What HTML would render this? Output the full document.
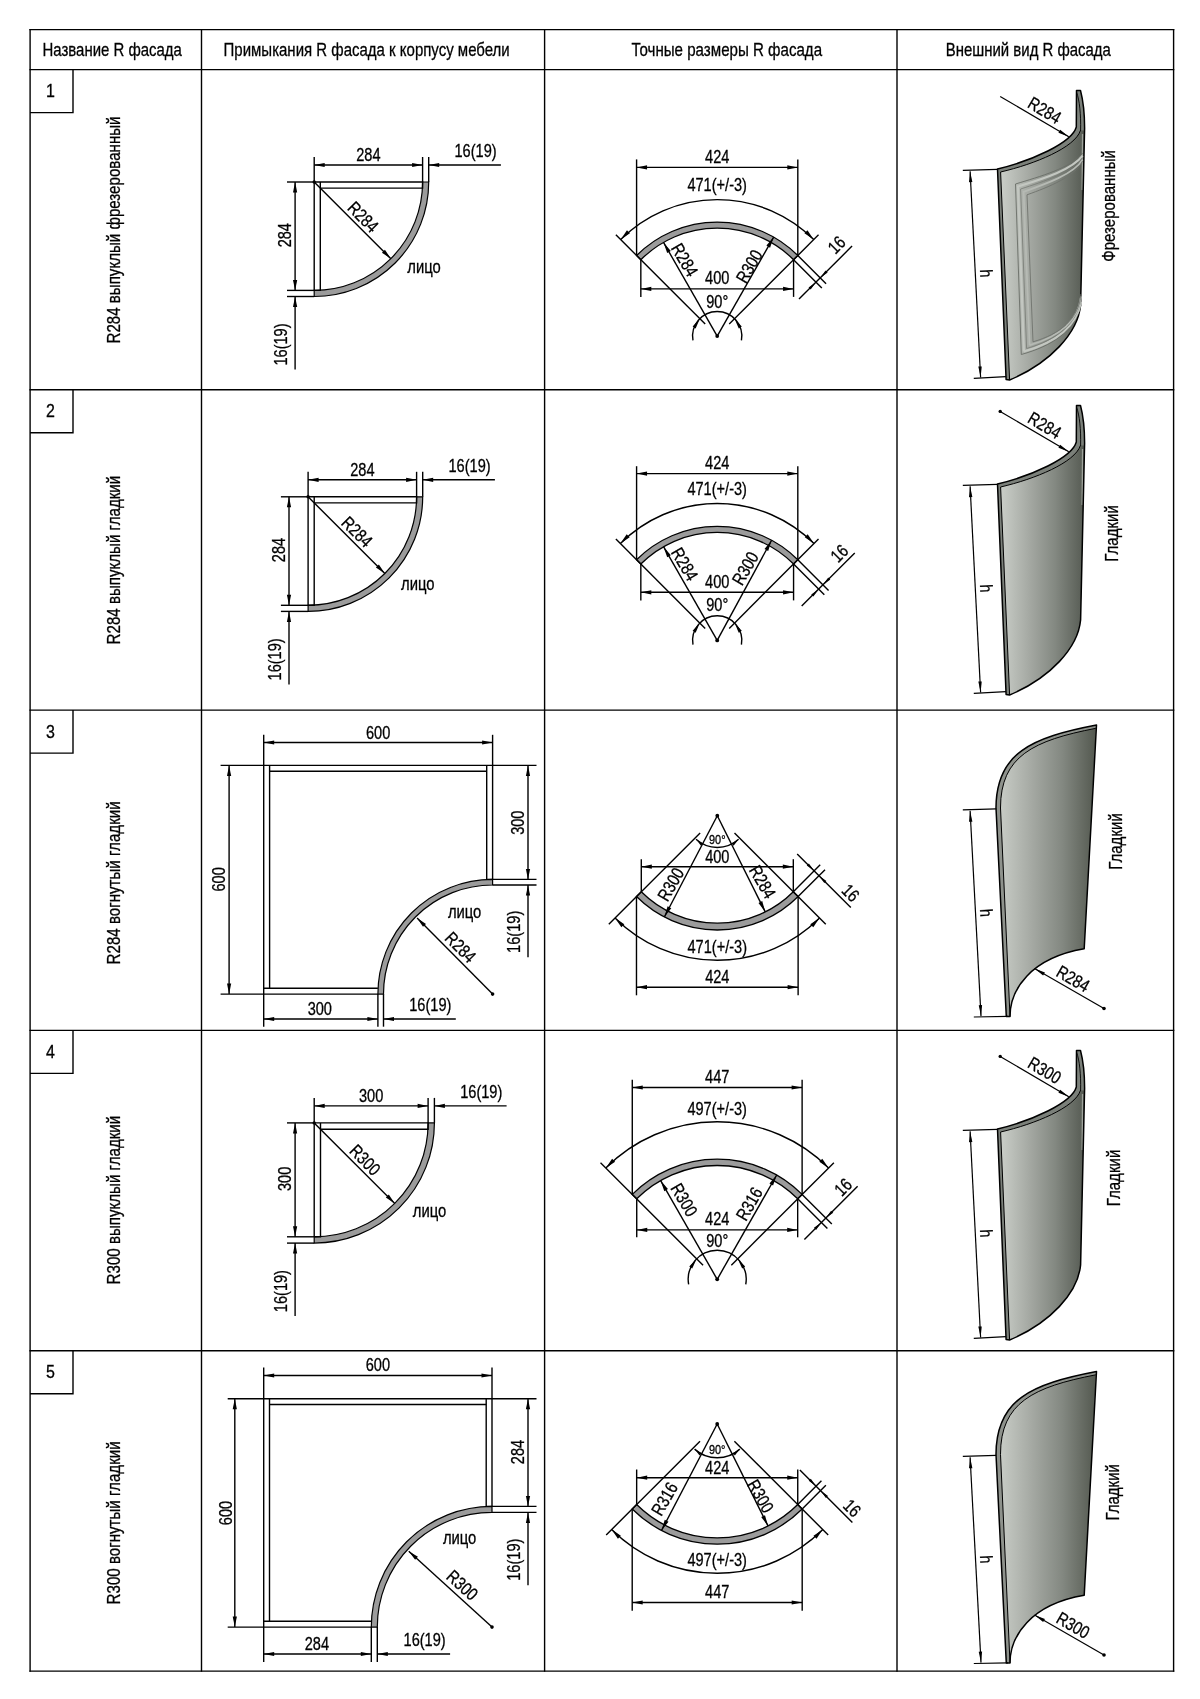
<!DOCTYPE html>
<html><head><meta charset="utf-8"><style>
html,body{margin:0;padding:0;background:#fff;}
body{width:1200px;height:1699px;overflow:hidden;}
svg{display:block;will-change:transform;}
text{font-family:"Liberation Sans",sans-serif;fill:#000;stroke:#000;stroke-width:0.3px;}
</style></head><body>
<svg width="1200" height="1699" viewBox="0 0 1200 1699">
<defs>

<linearGradient id="gface" gradientUnits="userSpaceOnUse" x1="1002" y1="0" x2="1084" y2="0">
 <stop offset="0" stop-color="#c8ccc6"/><stop offset="0.35" stop-color="#a3a7a1"/><stop offset="0.65" stop-color="#838881"/><stop offset="1" stop-color="#565b53"/>
</linearGradient>
<linearGradient id="gface2" gradientUnits="userSpaceOnUse" x1="1000" y1="0" x2="1096" y2="0">
 <stop offset="0" stop-color="#c8ccc6"/><stop offset="0.35" stop-color="#a3a7a1"/><stop offset="0.65" stop-color="#838881"/><stop offset="1" stop-color="#53584f"/>
</linearGradient>

</defs>
<line x1="30.10" y1="28.90" x2="30.10" y2="1671.80" stroke="#000" stroke-width="1.4"/>
<line x1="201.50" y1="28.90" x2="201.50" y2="1671.80" stroke="#000" stroke-width="1.4"/>
<line x1="544.60" y1="28.90" x2="544.60" y2="1671.80" stroke="#000" stroke-width="1.4"/>
<line x1="897.00" y1="28.90" x2="897.00" y2="1671.80" stroke="#000" stroke-width="1.4"/>
<line x1="1173.60" y1="28.90" x2="1173.60" y2="1671.80" stroke="#000" stroke-width="1.4"/>
<line x1="29.40" y1="29.60" x2="1174.30" y2="29.60" stroke="#000" stroke-width="1.4"/>
<line x1="29.40" y1="69.60" x2="1174.30" y2="69.60" stroke="#000" stroke-width="1.4"/>
<line x1="29.40" y1="389.75" x2="1174.30" y2="389.75" stroke="#000" stroke-width="1.4"/>
<line x1="29.40" y1="710.10" x2="1174.30" y2="710.10" stroke="#000" stroke-width="1.4"/>
<line x1="29.40" y1="1030.40" x2="1174.30" y2="1030.40" stroke="#000" stroke-width="1.4"/>
<line x1="29.40" y1="1350.75" x2="1174.30" y2="1350.75" stroke="#000" stroke-width="1.4"/>
<line x1="29.40" y1="1671.10" x2="1174.30" y2="1671.10" stroke="#000" stroke-width="1.4"/>
<path d="M30.1,112.6 L73,112.6 L73,69.6" fill="none" stroke="#000" stroke-width="1.4"/>
<text x="50.50" y="97.00" font-size="18.6" text-anchor="middle" textLength="8.90" lengthAdjust="spacingAndGlyphs">1</text>
<path d="M30.1,432.75 L73,432.75 L73,389.75" fill="none" stroke="#000" stroke-width="1.4"/>
<text x="50.50" y="417.15" font-size="18.6" text-anchor="middle" textLength="8.90" lengthAdjust="spacingAndGlyphs">2</text>
<path d="M30.1,753.1 L73,753.1 L73,710.1" fill="none" stroke="#000" stroke-width="1.4"/>
<text x="50.50" y="737.50" font-size="18.6" text-anchor="middle" textLength="8.90" lengthAdjust="spacingAndGlyphs">3</text>
<path d="M30.1,1073.4 L73,1073.4 L73,1030.4" fill="none" stroke="#000" stroke-width="1.4"/>
<text x="50.50" y="1057.80" font-size="18.6" text-anchor="middle" textLength="8.90" lengthAdjust="spacingAndGlyphs">4</text>
<path d="M30.1,1393.75 L73,1393.75 L73,1350.75" fill="none" stroke="#000" stroke-width="1.4"/>
<text x="50.50" y="1378.15" font-size="18.6" text-anchor="middle" textLength="8.90" lengthAdjust="spacingAndGlyphs">5</text>
<text x="112.20" y="56.30" font-size="18.6" text-anchor="middle" textLength="139.35" lengthAdjust="spacingAndGlyphs">Название R фасада</text>
<text x="366.65" y="56.30" font-size="18.6" text-anchor="middle" textLength="286.22" lengthAdjust="spacingAndGlyphs">Примыкания R фасада к корпусу мебели</text>
<text x="726.75" y="56.30" font-size="18.6" text-anchor="middle" textLength="190.62" lengthAdjust="spacingAndGlyphs">Точные размеры R фасада</text>
<text x="1028.30" y="56.30" font-size="18.6" text-anchor="middle" textLength="165.21" lengthAdjust="spacingAndGlyphs">Внешний вид R фасада</text>
<text x="120.10" y="343.50" font-size="18.2" text-anchor="start" textLength="227.02" lengthAdjust="spacingAndGlyphs" transform="rotate(-90.00 120.10 343.50)">R284 выпуклый фрезерованный</text>
<text x="120.10" y="644.40" font-size="18.2" text-anchor="start" textLength="168.64" lengthAdjust="spacingAndGlyphs" transform="rotate(-90.00 120.10 644.40)">R284 выпуклый гладкий</text>
<text x="120.10" y="964.40" font-size="18.2" text-anchor="start" textLength="163.01" lengthAdjust="spacingAndGlyphs" transform="rotate(-90.00 120.10 964.40)">R284 вогнутый гладкий</text>
<text x="120.10" y="1284.40" font-size="18.2" text-anchor="start" textLength="168.64" lengthAdjust="spacingAndGlyphs" transform="rotate(-90.00 120.10 1284.40)">R300 выпуклый гладкий</text>
<text x="120.10" y="1604.40" font-size="18.2" text-anchor="start" textLength="163.01" lengthAdjust="spacingAndGlyphs" transform="rotate(-90.00 120.10 1604.40)">R300 вогнутый гладкий</text>
<path d="M422.60,182.00 L428.70,182.00 A114.50,114.50 0 0 1 314.20,296.50 L314.20,290.40 A108.40,108.40 0 0 0 422.60,182.00 Z" fill="#9b9b9b" stroke="#000" stroke-width="1.2"/>
<path d="M314.20,290.40 L314.20,182.00 L422.60,182.00 L422.60,188.10 L320.30,188.10" fill="none" stroke="#000" stroke-width="1.4"/>
<path d="M320.30,182.00 L320.30,290.40 L314.20,290.40" fill="none" stroke="#000" stroke-width="1.4"/>
<line x1="314.20" y1="157.00" x2="314.20" y2="182.00" stroke="#000" stroke-width="1.4"/>
<line x1="422.60" y1="157.00" x2="422.60" y2="182.00" stroke="#000" stroke-width="1.4"/>
<line x1="428.70" y1="157.00" x2="428.70" y2="182.00" stroke="#000" stroke-width="1.4"/>
<line x1="314.20" y1="165.00" x2="422.60" y2="165.00" stroke="#000" stroke-width="1.4"/>
<path d="M314.20,165.00 L324.70,162.90 L324.70,167.10 Z" fill="#000"/>
<path d="M422.60,165.00 L412.10,167.10 L412.10,162.90 Z" fill="#000"/>
<line x1="428.70" y1="165.00" x2="500.90" y2="165.00" stroke="#000" stroke-width="1.4"/>
<path d="M428.70,165.00 L439.20,162.90 L439.20,167.10 Z" fill="#000"/>
<text x="368.40" y="160.80" font-size="18.0" text-anchor="middle" textLength="24.33" lengthAdjust="spacingAndGlyphs">284</text>
<text x="454.50" y="156.80" font-size="18.0" text-anchor="start" textLength="42.15" lengthAdjust="spacingAndGlyphs">16(19)</text>
<line x1="287.00" y1="182.00" x2="314.20" y2="182.00" stroke="#000" stroke-width="1.4"/>
<line x1="287.00" y1="290.40" x2="314.20" y2="290.40" stroke="#000" stroke-width="1.4"/>
<line x1="287.00" y1="296.50" x2="314.20" y2="296.50" stroke="#000" stroke-width="1.4"/>
<line x1="295.10" y1="182.00" x2="295.10" y2="290.40" stroke="#000" stroke-width="1.4"/>
<path d="M295.10,182.00 L297.20,192.50 L293.00,192.50 Z" fill="#000"/>
<path d="M295.10,290.40 L293.00,279.90 L297.20,279.90 Z" fill="#000"/>
<line x1="295.10" y1="296.50" x2="295.10" y2="369.50" stroke="#000" stroke-width="1.4"/>
<path d="M295.10,296.50 L297.20,307.00 L293.00,307.00 Z" fill="#000"/>
<text x="290.80" y="235.20" font-size="18.0" text-anchor="middle" textLength="24.33" lengthAdjust="spacingAndGlyphs" transform="rotate(-90.00 290.80 235.20)">284</text>
<text x="286.90" y="344.50" font-size="18.0" text-anchor="middle" textLength="42.15" lengthAdjust="spacingAndGlyphs" transform="rotate(-90.00 286.90 344.50)">16(19)</text>
<circle cx="314.20" cy="182.00" r="1.7" fill="#000"/>
<line x1="314.20" y1="182.00" x2="390.85" y2="258.65" stroke="#000" stroke-width="1.4"/>
<path d="M390.85,258.65 L381.94,252.71 L384.91,249.74 Z" fill="#000"/>
<text x="362.96" y="217.16" font-size="18.0" text-anchor="middle" textLength="34.86" lengthAdjust="spacingAndGlyphs" transform="rotate(45.00 362.96 217.16)" dominant-baseline="central">R284</text>
<text x="407.30" y="273.40" font-size="18.0" text-anchor="start" textLength="33.44" lengthAdjust="spacingAndGlyphs">лицо</text>
<path d="M416.60,496.80 L422.70,496.80 A114.60,114.60 0 0 1 308.10,611.40 L308.10,605.30 A108.50,108.50 0 0 0 416.60,496.80 Z" fill="#9b9b9b" stroke="#000" stroke-width="1.2"/>
<path d="M308.10,605.30 L308.10,496.80 L416.60,496.80 L416.60,502.90 L314.20,502.90" fill="none" stroke="#000" stroke-width="1.4"/>
<path d="M314.20,496.80 L314.20,605.30 L308.10,605.30" fill="none" stroke="#000" stroke-width="1.4"/>
<line x1="308.10" y1="471.80" x2="308.10" y2="496.80" stroke="#000" stroke-width="1.4"/>
<line x1="416.60" y1="471.80" x2="416.60" y2="496.80" stroke="#000" stroke-width="1.4"/>
<line x1="422.70" y1="471.80" x2="422.70" y2="496.80" stroke="#000" stroke-width="1.4"/>
<line x1="308.10" y1="479.80" x2="416.60" y2="479.80" stroke="#000" stroke-width="1.4"/>
<path d="M308.10,479.80 L318.60,477.70 L318.60,481.90 Z" fill="#000"/>
<path d="M416.60,479.80 L406.10,481.90 L406.10,477.70 Z" fill="#000"/>
<line x1="422.70" y1="479.80" x2="494.90" y2="479.80" stroke="#000" stroke-width="1.4"/>
<path d="M422.70,479.80 L433.20,477.70 L433.20,481.90 Z" fill="#000"/>
<text x="362.35" y="475.60" font-size="18.0" text-anchor="middle" textLength="24.33" lengthAdjust="spacingAndGlyphs">284</text>
<text x="448.50" y="471.60" font-size="18.0" text-anchor="start" textLength="42.15" lengthAdjust="spacingAndGlyphs">16(19)</text>
<line x1="280.90" y1="496.80" x2="308.10" y2="496.80" stroke="#000" stroke-width="1.4"/>
<line x1="280.90" y1="605.30" x2="308.10" y2="605.30" stroke="#000" stroke-width="1.4"/>
<line x1="280.90" y1="611.40" x2="308.10" y2="611.40" stroke="#000" stroke-width="1.4"/>
<line x1="289.00" y1="496.80" x2="289.00" y2="605.30" stroke="#000" stroke-width="1.4"/>
<path d="M289.00,496.80 L291.10,507.30 L286.90,507.30 Z" fill="#000"/>
<path d="M289.00,605.30 L286.90,594.80 L291.10,594.80 Z" fill="#000"/>
<line x1="289.00" y1="611.40" x2="289.00" y2="684.40" stroke="#000" stroke-width="1.4"/>
<path d="M289.00,611.40 L291.10,621.90 L286.90,621.90 Z" fill="#000"/>
<text x="284.70" y="550.05" font-size="18.0" text-anchor="middle" textLength="24.33" lengthAdjust="spacingAndGlyphs" transform="rotate(-90.00 284.70 550.05)">284</text>
<text x="280.80" y="659.40" font-size="18.0" text-anchor="middle" textLength="42.15" lengthAdjust="spacingAndGlyphs" transform="rotate(-90.00 280.80 659.40)">16(19)</text>
<circle cx="308.10" cy="496.80" r="1.7" fill="#000"/>
<line x1="308.10" y1="496.80" x2="384.82" y2="573.52" stroke="#000" stroke-width="1.4"/>
<path d="M384.82,573.52 L375.91,567.58 L378.88,564.61 Z" fill="#000"/>
<text x="356.89" y="531.99" font-size="18.0" text-anchor="middle" textLength="34.86" lengthAdjust="spacingAndGlyphs" transform="rotate(45.00 356.89 531.99)" dominant-baseline="central">R284</text>
<text x="401.00" y="590.20" font-size="18.0" text-anchor="start" textLength="33.44" lengthAdjust="spacingAndGlyphs">лицо</text>
<path d="M428.10,1122.90 L434.40,1122.90 A120.20,120.20 0 0 1 314.20,1243.10 L314.20,1236.80 A113.90,113.90 0 0 0 428.10,1122.90 Z" fill="#9b9b9b" stroke="#000" stroke-width="1.2"/>
<path d="M314.20,1236.80 L314.20,1122.90 L428.10,1122.90 L428.10,1129.20 L320.50,1129.20" fill="none" stroke="#000" stroke-width="1.4"/>
<path d="M320.50,1122.90 L320.50,1236.80 L314.20,1236.80" fill="none" stroke="#000" stroke-width="1.4"/>
<line x1="314.20" y1="1097.90" x2="314.20" y2="1122.90" stroke="#000" stroke-width="1.4"/>
<line x1="428.10" y1="1097.90" x2="428.10" y2="1122.90" stroke="#000" stroke-width="1.4"/>
<line x1="434.40" y1="1097.90" x2="434.40" y2="1122.90" stroke="#000" stroke-width="1.4"/>
<line x1="314.20" y1="1105.90" x2="428.10" y2="1105.90" stroke="#000" stroke-width="1.4"/>
<path d="M314.20,1105.90 L324.70,1103.80 L324.70,1108.00 Z" fill="#000"/>
<path d="M428.10,1105.90 L417.60,1108.00 L417.60,1103.80 Z" fill="#000"/>
<line x1="434.40" y1="1105.90" x2="506.60" y2="1105.90" stroke="#000" stroke-width="1.4"/>
<path d="M434.40,1105.90 L444.90,1103.80 L444.90,1108.00 Z" fill="#000"/>
<text x="371.15" y="1101.70" font-size="18.0" text-anchor="middle" textLength="24.33" lengthAdjust="spacingAndGlyphs">300</text>
<text x="460.20" y="1097.70" font-size="18.0" text-anchor="start" textLength="42.15" lengthAdjust="spacingAndGlyphs">16(19)</text>
<line x1="287.00" y1="1122.90" x2="314.20" y2="1122.90" stroke="#000" stroke-width="1.4"/>
<line x1="287.00" y1="1236.80" x2="314.20" y2="1236.80" stroke="#000" stroke-width="1.4"/>
<line x1="287.00" y1="1243.10" x2="314.20" y2="1243.10" stroke="#000" stroke-width="1.4"/>
<line x1="295.10" y1="1122.90" x2="295.10" y2="1236.80" stroke="#000" stroke-width="1.4"/>
<path d="M295.10,1122.90 L297.20,1133.40 L293.00,1133.40 Z" fill="#000"/>
<path d="M295.10,1236.80 L293.00,1226.30 L297.20,1226.30 Z" fill="#000"/>
<line x1="295.10" y1="1243.10" x2="295.10" y2="1316.10" stroke="#000" stroke-width="1.4"/>
<path d="M295.10,1243.10 L297.20,1253.60 L293.00,1253.60 Z" fill="#000"/>
<text x="290.80" y="1178.85" font-size="18.0" text-anchor="middle" textLength="24.33" lengthAdjust="spacingAndGlyphs" transform="rotate(-90.00 290.80 1178.85)">300</text>
<text x="286.90" y="1291.10" font-size="18.0" text-anchor="middle" textLength="42.15" lengthAdjust="spacingAndGlyphs" transform="rotate(-90.00 286.90 1291.10)">16(19)</text>
<circle cx="314.20" cy="1122.90" r="1.7" fill="#000"/>
<line x1="314.20" y1="1122.90" x2="394.74" y2="1203.44" stroke="#000" stroke-width="1.4"/>
<path d="M394.74,1203.44 L385.83,1197.50 L388.80,1194.53 Z" fill="#000"/>
<text x="364.98" y="1160.08" font-size="18.0" text-anchor="middle" textLength="34.86" lengthAdjust="spacingAndGlyphs" transform="rotate(45.00 364.98 1160.08)" dominant-baseline="central">R300</text>
<text x="412.80" y="1216.90" font-size="18.0" text-anchor="start" textLength="33.44" lengthAdjust="spacingAndGlyphs">лицо</text>
<path d="M377.90,994.10 A114.70,114.70 0 0 1 492.60,879.40 L492.60,885.00 A109.10,109.10 0 0 0 383.50,994.10 Z" fill="#9b9b9b" stroke="#000" stroke-width="1.2"/>
<path d="M377.90,994.10 L263.70,994.10 L263.70,765.40 L492.60,765.40 L492.60,879.40" fill="none" stroke="#000" stroke-width="1.4"/>
<path d="M377.90,988.20 L263.70,988.20" fill="none" stroke="#000" stroke-width="1.4"/>
<path d="M269.60,988.20 L269.60,765.40" fill="none" stroke="#000" stroke-width="1.4"/>
<path d="M269.60,771.30 L486.70,771.30" fill="none" stroke="#000" stroke-width="1.4"/>
<path d="M486.70,765.40 L486.70,879.40 L492.60,879.40" fill="none" stroke="#000" stroke-width="1.4"/>
<line x1="263.70" y1="734.80" x2="263.70" y2="765.40" stroke="#000" stroke-width="1.4"/>
<line x1="492.60" y1="734.80" x2="492.60" y2="765.40" stroke="#000" stroke-width="1.4"/>
<line x1="263.70" y1="742.50" x2="492.60" y2="742.50" stroke="#000" stroke-width="1.4"/>
<path d="M263.70,742.50 L274.20,740.40 L274.20,744.60 Z" fill="#000"/>
<path d="M492.60,742.50 L482.10,744.60 L482.10,740.40 Z" fill="#000"/>
<text x="378.15" y="739.10" font-size="18.0" text-anchor="middle" textLength="24.33" lengthAdjust="spacingAndGlyphs">600</text>
<line x1="220.60" y1="765.40" x2="263.70" y2="765.40" stroke="#000" stroke-width="1.4"/>
<line x1="220.60" y1="994.10" x2="263.70" y2="994.10" stroke="#000" stroke-width="1.4"/>
<line x1="229.10" y1="765.40" x2="229.10" y2="994.10" stroke="#000" stroke-width="1.4"/>
<path d="M229.10,765.40 L231.20,775.90 L227.00,775.90 Z" fill="#000"/>
<path d="M229.10,994.10 L227.00,983.60 L231.20,983.60 Z" fill="#000"/>
<text x="224.80" y="879.40" font-size="18.0" text-anchor="middle" textLength="24.33" lengthAdjust="spacingAndGlyphs" transform="rotate(-90.00 224.80 879.40)">600</text>
<line x1="492.60" y1="765.40" x2="536.50" y2="765.40" stroke="#000" stroke-width="1.4"/>
<line x1="492.60" y1="879.40" x2="536.50" y2="879.40" stroke="#000" stroke-width="1.4"/>
<line x1="492.60" y1="885.00" x2="536.50" y2="885.00" stroke="#000" stroke-width="1.4"/>
<line x1="528.00" y1="765.40" x2="528.00" y2="879.40" stroke="#000" stroke-width="1.4"/>
<path d="M528.00,765.40 L530.10,775.90 L525.90,775.90 Z" fill="#000"/>
<path d="M528.00,879.40 L525.90,868.90 L530.10,868.90 Z" fill="#000"/>
<text x="524.30" y="822.70" font-size="18.0" text-anchor="middle" textLength="24.33" lengthAdjust="spacingAndGlyphs" transform="rotate(-90.00 524.30 822.70)">300</text>
<line x1="528.00" y1="885.00" x2="528.00" y2="957.30" stroke="#000" stroke-width="1.4"/>
<path d="M528.00,885.00 L530.10,895.50 L525.90,895.50 Z" fill="#000"/>
<text x="520.30" y="931.80" font-size="18.0" text-anchor="middle" textLength="42.15" lengthAdjust="spacingAndGlyphs" transform="rotate(-90.00 520.30 931.80)">16(19)</text>
<line x1="263.70" y1="994.10" x2="263.70" y2="1026.70" stroke="#000" stroke-width="1.4"/>
<line x1="377.90" y1="994.10" x2="377.90" y2="1026.70" stroke="#000" stroke-width="1.4"/>
<line x1="383.50" y1="994.10" x2="383.50" y2="1026.70" stroke="#000" stroke-width="1.4"/>
<line x1="263.70" y1="1019.00" x2="377.90" y2="1019.00" stroke="#000" stroke-width="1.4"/>
<path d="M263.70,1019.00 L274.20,1016.90 L274.20,1021.10 Z" fill="#000"/>
<path d="M377.90,1019.00 L367.40,1021.10 L367.40,1016.90 Z" fill="#000"/>
<text x="319.80" y="1014.80" font-size="18.0" text-anchor="middle" textLength="24.33" lengthAdjust="spacingAndGlyphs">300</text>
<line x1="383.50" y1="1019.00" x2="455.80" y2="1019.00" stroke="#000" stroke-width="1.4"/>
<path d="M383.50,1019.00 L394.00,1016.90 L394.00,1021.10 Z" fill="#000"/>
<text x="430.30" y="1011.30" font-size="18.0" text-anchor="middle" textLength="42.15" lengthAdjust="spacingAndGlyphs">16(19)</text>
<circle cx="492.60" cy="994.10" r="1.8" fill="#000"/>
<line x1="492.60" y1="994.10" x2="417.10" y2="917.90" stroke="#000" stroke-width="1.4"/>
<path d="M417.10,917.90 L425.98,923.88 L423.00,926.84 Z" fill="#000"/>
<text x="460.40" y="947.50" font-size="18.0" text-anchor="middle" textLength="34.86" lengthAdjust="spacingAndGlyphs" transform="rotate(45.30 460.40 947.50)" dominant-baseline="central">R284</text>
<text x="447.90" y="918.30" font-size="18.0" text-anchor="start" textLength="33.44" lengthAdjust="spacingAndGlyphs">лицо</text>
<path d="M371.30,1627.10 A120.70,120.70 0 0 1 492.00,1506.40 L492.00,1512.40 A114.70,114.70 0 0 0 377.30,1627.10 Z" fill="#9b9b9b" stroke="#000" stroke-width="1.2"/>
<path d="M371.30,1627.10 L263.70,1627.10 L263.70,1398.70 L492.00,1398.70 L492.00,1506.40" fill="none" stroke="#000" stroke-width="1.4"/>
<path d="M371.30,1621.30 L263.70,1621.30" fill="none" stroke="#000" stroke-width="1.4"/>
<path d="M269.50,1621.30 L269.50,1398.70" fill="none" stroke="#000" stroke-width="1.4"/>
<path d="M269.50,1404.50 L486.20,1404.50" fill="none" stroke="#000" stroke-width="1.4"/>
<path d="M486.20,1398.70 L486.20,1506.40 L492.00,1506.40" fill="none" stroke="#000" stroke-width="1.4"/>
<line x1="263.70" y1="1367.60" x2="263.70" y2="1398.70" stroke="#000" stroke-width="1.4"/>
<line x1="492.00" y1="1367.60" x2="492.00" y2="1398.70" stroke="#000" stroke-width="1.4"/>
<line x1="263.70" y1="1375.50" x2="492.00" y2="1375.50" stroke="#000" stroke-width="1.4"/>
<path d="M263.70,1375.50 L274.20,1373.40 L274.20,1377.60 Z" fill="#000"/>
<path d="M492.00,1375.50 L481.50,1377.60 L481.50,1373.40 Z" fill="#000"/>
<text x="377.85" y="1371.30" font-size="18.0" text-anchor="middle" textLength="24.33" lengthAdjust="spacingAndGlyphs">600</text>
<line x1="227.70" y1="1398.70" x2="263.70" y2="1398.70" stroke="#000" stroke-width="1.4"/>
<line x1="227.70" y1="1627.10" x2="263.70" y2="1627.10" stroke="#000" stroke-width="1.4"/>
<line x1="234.80" y1="1398.70" x2="234.80" y2="1627.10" stroke="#000" stroke-width="1.4"/>
<path d="M234.80,1398.70 L236.90,1409.20 L232.70,1409.20 Z" fill="#000"/>
<path d="M234.80,1627.10 L232.70,1616.60 L236.90,1616.60 Z" fill="#000"/>
<text x="231.90" y="1513.00" font-size="18.0" text-anchor="middle" textLength="24.33" lengthAdjust="spacingAndGlyphs" transform="rotate(-90.00 231.90 1513.00)">600</text>
<line x1="492.00" y1="1398.70" x2="536.50" y2="1398.70" stroke="#000" stroke-width="1.4"/>
<line x1="492.00" y1="1506.40" x2="536.50" y2="1506.40" stroke="#000" stroke-width="1.4"/>
<line x1="492.00" y1="1512.40" x2="536.50" y2="1512.40" stroke="#000" stroke-width="1.4"/>
<line x1="528.00" y1="1398.70" x2="528.00" y2="1506.40" stroke="#000" stroke-width="1.4"/>
<path d="M528.00,1398.70 L530.10,1409.20 L525.90,1409.20 Z" fill="#000"/>
<path d="M528.00,1506.40 L525.90,1495.90 L530.10,1495.90 Z" fill="#000"/>
<text x="524.30" y="1452.00" font-size="18.0" text-anchor="middle" textLength="24.33" lengthAdjust="spacingAndGlyphs" transform="rotate(-90.00 524.30 1452.00)">284</text>
<line x1="528.00" y1="1512.40" x2="528.00" y2="1585.20" stroke="#000" stroke-width="1.4"/>
<path d="M528.00,1512.40 L530.10,1522.90 L525.90,1522.90 Z" fill="#000"/>
<text x="520.30" y="1559.70" font-size="18.0" text-anchor="middle" textLength="42.15" lengthAdjust="spacingAndGlyphs" transform="rotate(-90.00 520.30 1559.70)">16(19)</text>
<line x1="263.70" y1="1627.10" x2="263.70" y2="1662.00" stroke="#000" stroke-width="1.4"/>
<line x1="371.30" y1="1627.10" x2="371.30" y2="1662.00" stroke="#000" stroke-width="1.4"/>
<line x1="377.30" y1="1627.10" x2="377.30" y2="1662.00" stroke="#000" stroke-width="1.4"/>
<line x1="263.70" y1="1654.00" x2="371.30" y2="1654.00" stroke="#000" stroke-width="1.4"/>
<path d="M263.70,1654.00 L274.20,1651.90 L274.20,1656.10 Z" fill="#000"/>
<path d="M371.30,1654.00 L360.80,1656.10 L360.80,1651.90 Z" fill="#000"/>
<text x="316.90" y="1649.80" font-size="18.0" text-anchor="middle" textLength="24.33" lengthAdjust="spacingAndGlyphs">284</text>
<line x1="377.30" y1="1654.00" x2="450.10" y2="1654.00" stroke="#000" stroke-width="1.4"/>
<path d="M377.30,1654.00 L387.80,1651.90 L387.80,1656.10 Z" fill="#000"/>
<text x="424.60" y="1646.30" font-size="18.0" text-anchor="middle" textLength="42.15" lengthAdjust="spacingAndGlyphs">16(19)</text>
<circle cx="492.00" cy="1627.10" r="1.8" fill="#000"/>
<line x1="492.00" y1="1627.10" x2="408.75" y2="1551.25" stroke="#000" stroke-width="1.4"/>
<path d="M408.75,1551.25 L417.93,1556.77 L415.10,1559.87 Z" fill="#000"/>
<text x="462.10" y="1585.40" font-size="18.0" text-anchor="middle" textLength="34.86" lengthAdjust="spacingAndGlyphs" transform="rotate(42.20 462.10 1585.40)" dominant-baseline="central">R300</text>
<text x="442.90" y="1544.20" font-size="18.0" text-anchor="start" textLength="33.44" lengthAdjust="spacingAndGlyphs">лицо</text>
<path d="M636.59,255.49 A114.00,114.00 0 0 1 797.81,255.49 L793.57,259.73 A108.00,108.00 0 0 0 640.83,259.73 Z" fill="#9b9b9b" stroke="#000" stroke-width="1.3"/>
<line x1="705.18" y1="324.08" x2="615.87" y2="234.77" stroke="#000" stroke-width="1.4"/>
<line x1="729.22" y1="324.08" x2="818.53" y2="234.77" stroke="#000" stroke-width="1.4"/>
<line x1="636.59" y1="255.49" x2="636.59" y2="159.40" stroke="#000" stroke-width="1.4"/>
<line x1="797.81" y1="255.49" x2="797.81" y2="159.40" stroke="#000" stroke-width="1.4"/>
<line x1="636.59" y1="167.40" x2="797.81" y2="167.40" stroke="#000" stroke-width="1.4"/>
<path d="M636.59,167.40 L647.09,165.30 L647.09,169.50 Z" fill="#000"/>
<path d="M797.81,167.40 L787.31,169.50 L787.31,165.30 Z" fill="#000"/>
<text x="717.20" y="162.70" font-size="18.0" text-anchor="middle" textLength="24.33" lengthAdjust="spacingAndGlyphs">424</text>
<line x1="640.83" y1="259.73" x2="640.83" y2="296.90" stroke="#000" stroke-width="1.4"/>
<line x1="793.57" y1="259.73" x2="793.57" y2="296.90" stroke="#000" stroke-width="1.4"/>
<line x1="640.83" y1="288.90" x2="793.57" y2="288.90" stroke="#000" stroke-width="1.4"/>
<path d="M640.83,288.90 L651.33,286.80 L651.33,291.00 Z" fill="#000"/>
<path d="M793.57,288.90 L783.07,291.00 L783.07,286.80 Z" fill="#000"/>
<text x="717.20" y="283.90" font-size="18.0" text-anchor="middle" textLength="24.33" lengthAdjust="spacingAndGlyphs">400</text>
<path d="M620.68,239.58 A136.50,136.50 0 0 1 813.72,239.58" fill="none" stroke="#000" stroke-width="1.4"/>
<path d="M620.68,239.58 L626.97,230.32 L629.94,233.29 Z" fill="#000"/>
<path d="M813.72,239.58 L804.46,233.29 L807.43,230.32 Z" fill="#000"/>
<text x="717.20" y="190.80" font-size="18.0" text-anchor="middle" textLength="59.57" lengthAdjust="spacingAndGlyphs">471(+/-3)</text>
<path d="M692.97,340.37 A24.60,24.60 0 1 1 741.43,340.37" fill="none" stroke="#000" stroke-width="1.4"/>
<path d="M699.81,318.71 L695.64,328.51 L692.61,326.56 Z" fill="#000"/>
<path d="M734.59,318.71 L741.79,326.56 L738.76,328.51 Z" fill="#000"/>
<text x="717.20" y="307.80" font-size="18.0" text-anchor="middle" textLength="22.05" lengthAdjust="spacingAndGlyphs">90°</text>
<circle cx="717.20" cy="336.10" r="1.9" fill="#000"/>
<line x1="717.20" y1="336.10" x2="663.53" y2="242.38" stroke="#000" stroke-width="1.4"/>
<path d="M663.53,242.38 L670.82,250.88 L667.17,252.97 Z" fill="#000"/>
<line x1="717.20" y1="336.10" x2="773.68" y2="237.08" stroke="#000" stroke-width="1.4"/>
<path d="M773.68,237.08 L770.06,247.67 L766.41,245.59 Z" fill="#000"/>
<text x="684.50" y="260.00" font-size="18.0" text-anchor="middle" textLength="34.86" lengthAdjust="spacingAndGlyphs" transform="rotate(60.00 684.50 260.00)" dominant-baseline="central">R284</text>
<text x="749.50" y="266.50" font-size="18.0" text-anchor="middle" textLength="34.86" lengthAdjust="spacingAndGlyphs" transform="rotate(-60.00 749.50 266.50)" dominant-baseline="central">R300</text>
<line x1="797.81" y1="255.49" x2="826.09" y2="283.77" stroke="#000" stroke-width="1.4"/>
<line x1="793.57" y1="259.73" x2="821.85" y2="288.02" stroke="#000" stroke-width="1.4"/>
<line x1="799.01" y1="299.12" x2="852.05" y2="246.09" stroke="#000" stroke-width="1.4"/>
<path d="M815.98,282.15 L810.68,289.57 L808.56,287.45 Z" fill="#000"/>
<path d="M820.23,277.91 L825.53,270.48 L827.65,272.60 Z" fill="#000"/>
<text x="836.70" y="245.00" font-size="18.0" text-anchor="middle" textLength="16.22" lengthAdjust="spacingAndGlyphs" transform="rotate(-45.00 836.70 245.00)" dominant-baseline="central">16</text>
<path d="M636.59,559.79 A114.00,114.00 0 0 1 797.81,559.79 L793.57,564.03 A108.00,108.00 0 0 0 640.83,564.03 Z" fill="#9b9b9b" stroke="#000" stroke-width="1.3"/>
<line x1="705.18" y1="628.38" x2="615.87" y2="539.07" stroke="#000" stroke-width="1.4"/>
<line x1="729.22" y1="628.38" x2="818.53" y2="539.07" stroke="#000" stroke-width="1.4"/>
<line x1="636.59" y1="559.79" x2="636.59" y2="466.20" stroke="#000" stroke-width="1.4"/>
<line x1="797.81" y1="559.79" x2="797.81" y2="466.20" stroke="#000" stroke-width="1.4"/>
<line x1="636.59" y1="473.60" x2="797.81" y2="473.60" stroke="#000" stroke-width="1.4"/>
<path d="M636.59,473.60 L647.09,471.50 L647.09,475.70 Z" fill="#000"/>
<path d="M797.81,473.60 L787.31,475.70 L787.31,471.50 Z" fill="#000"/>
<text x="717.20" y="469.30" font-size="18.0" text-anchor="middle" textLength="24.33" lengthAdjust="spacingAndGlyphs">424</text>
<line x1="640.83" y1="564.03" x2="640.83" y2="600.40" stroke="#000" stroke-width="1.4"/>
<line x1="793.57" y1="564.03" x2="793.57" y2="600.40" stroke="#000" stroke-width="1.4"/>
<line x1="640.83" y1="592.30" x2="793.57" y2="592.30" stroke="#000" stroke-width="1.4"/>
<path d="M640.83,592.30 L651.33,590.20 L651.33,594.40 Z" fill="#000"/>
<path d="M793.57,592.30 L783.07,594.40 L783.07,590.20 Z" fill="#000"/>
<text x="717.20" y="588.00" font-size="18.0" text-anchor="middle" textLength="24.33" lengthAdjust="spacingAndGlyphs">400</text>
<path d="M620.40,543.60 A136.90,136.90 0 0 1 814.00,543.60" fill="none" stroke="#000" stroke-width="1.4"/>
<path d="M620.40,543.60 L626.69,534.33 L629.66,537.30 Z" fill="#000"/>
<path d="M814.00,543.60 L804.74,537.30 L807.71,534.33 Z" fill="#000"/>
<text x="717.20" y="495.30" font-size="18.0" text-anchor="middle" textLength="59.57" lengthAdjust="spacingAndGlyphs">471(+/-3)</text>
<path d="M692.97,644.67 A24.60,24.60 0 1 1 741.43,644.67" fill="none" stroke="#000" stroke-width="1.4"/>
<path d="M699.81,623.01 L695.64,632.81 L692.61,630.86 Z" fill="#000"/>
<path d="M734.59,623.01 L741.79,630.86 L738.76,632.81 Z" fill="#000"/>
<text x="717.20" y="610.80" font-size="18.0" text-anchor="middle" textLength="22.05" lengthAdjust="spacingAndGlyphs">90°</text>
<circle cx="717.20" cy="640.40" r="1.9" fill="#000"/>
<line x1="717.20" y1="640.40" x2="663.53" y2="546.68" stroke="#000" stroke-width="1.4"/>
<path d="M663.53,546.68 L670.82,555.18 L667.17,557.27 Z" fill="#000"/>
<line x1="717.20" y1="640.40" x2="771.60" y2="540.21" stroke="#000" stroke-width="1.4"/>
<path d="M771.60,540.21 L768.19,550.88 L764.50,548.88 Z" fill="#000"/>
<text x="684.50" y="564.30" font-size="18.0" text-anchor="middle" textLength="34.86" lengthAdjust="spacingAndGlyphs" transform="rotate(60.00 684.50 564.30)" dominant-baseline="central">R284</text>
<text x="745.50" y="568.50" font-size="18.0" text-anchor="middle" textLength="34.86" lengthAdjust="spacingAndGlyphs" transform="rotate(-60.00 745.50 568.50)" dominant-baseline="central">R300</text>
<line x1="797.81" y1="559.79" x2="828.57" y2="590.55" stroke="#000" stroke-width="1.4"/>
<line x1="793.57" y1="564.03" x2="824.33" y2="594.79" stroke="#000" stroke-width="1.4"/>
<line x1="801.70" y1="606.11" x2="854.73" y2="553.07" stroke="#000" stroke-width="1.4"/>
<path d="M818.67,589.13 L813.37,596.56 L811.25,594.44 Z" fill="#000"/>
<path d="M822.91,584.89 L828.22,577.47 L830.34,579.59 Z" fill="#000"/>
<text x="839.60" y="553.50" font-size="18.0" text-anchor="middle" textLength="16.22" lengthAdjust="spacingAndGlyphs" transform="rotate(-45.00 839.60 553.50)" dominant-baseline="central">16</text>
<path d="M636.48,896.52 A114.30,114.30 0 0 0 798.12,896.52 L793.31,891.71 A107.50,107.50 0 0 1 641.29,891.71 Z" fill="#9b9b9b" stroke="#000" stroke-width="1.3"/>
<line x1="700.12" y1="832.88" x2="608.83" y2="924.17" stroke="#000" stroke-width="1.4"/>
<line x1="734.48" y1="832.88" x2="825.77" y2="924.17" stroke="#000" stroke-width="1.4"/>
<line x1="636.48" y1="896.52" x2="636.48" y2="995.30" stroke="#000" stroke-width="1.4"/>
<line x1="798.12" y1="896.52" x2="798.12" y2="995.30" stroke="#000" stroke-width="1.4"/>
<line x1="636.48" y1="987.20" x2="798.12" y2="987.20" stroke="#000" stroke-width="1.4"/>
<path d="M636.48,987.20 L646.98,985.10 L646.98,989.30 Z" fill="#000"/>
<path d="M798.12,987.20 L787.62,989.30 L787.62,985.10 Z" fill="#000"/>
<text x="717.30" y="982.50" font-size="18.0" text-anchor="middle" textLength="24.33" lengthAdjust="spacingAndGlyphs">424</text>
<line x1="641.29" y1="891.71" x2="641.29" y2="859.20" stroke="#000" stroke-width="1.4"/>
<line x1="793.31" y1="891.71" x2="793.31" y2="859.20" stroke="#000" stroke-width="1.4"/>
<line x1="641.29" y1="866.70" x2="793.31" y2="866.70" stroke="#000" stroke-width="1.4"/>
<path d="M641.29,866.70 L651.79,864.60 L651.79,868.80 Z" fill="#000"/>
<path d="M793.31,866.70 L782.81,868.80 L782.81,864.60 Z" fill="#000"/>
<text x="717.30" y="862.70" font-size="18.0" text-anchor="middle" textLength="24.33" lengthAdjust="spacingAndGlyphs">400</text>
<path d="M615.05,917.95 A144.60,144.60 0 0 0 819.55,917.95" fill="none" stroke="#000" stroke-width="1.4"/>
<path d="M615.05,917.95 L624.32,924.24 L621.35,927.21 Z" fill="#000"/>
<path d="M819.55,917.95 L813.25,927.21 L810.28,924.24 Z" fill="#000"/>
<text x="717.30" y="953.30" font-size="18.0" text-anchor="middle" textLength="59.57" lengthAdjust="spacingAndGlyphs">471(+/-3)</text>
<path d="M696.02,839.33 A31.80,31.80 0 0 0 738.58,839.33" fill="none" stroke="#000" stroke-width="1.4"/>
<path d="M696.02,839.33 L702.97,843.57 L700.96,845.80 Z" fill="#000"/>
<path d="M738.58,839.33 L733.64,845.80 L731.63,843.57 Z" fill="#000"/>
<text x="717.30" y="843.70" font-size="13.5" text-anchor="middle" textLength="16.54" lengthAdjust="spacingAndGlyphs">90°</text>
<circle cx="717.30" cy="815.70" r="1.9" fill="#000"/>
<line x1="717.30" y1="815.70" x2="664.35" y2="916.99" stroke="#000" stroke-width="1.4"/>
<path d="M664.35,916.99 L667.58,906.27 L671.30,908.22 Z" fill="#000"/>
<line x1="717.30" y1="815.70" x2="765.27" y2="911.91" stroke="#000" stroke-width="1.4"/>
<path d="M765.27,911.91 L758.48,903.00 L762.24,901.12 Z" fill="#000"/>
<text x="671.00" y="884.50" font-size="18.0" text-anchor="middle" textLength="34.86" lengthAdjust="spacingAndGlyphs" transform="rotate(-60.00 671.00 884.50)" dominant-baseline="central">R300</text>
<text x="762.30" y="882.00" font-size="18.0" text-anchor="middle" textLength="34.86" lengthAdjust="spacingAndGlyphs" transform="rotate(60.00 762.30 882.00)" dominant-baseline="central">R284</text>
<line x1="798.12" y1="896.52" x2="824.99" y2="869.65" stroke="#000" stroke-width="1.4"/>
<line x1="793.31" y1="891.71" x2="820.18" y2="864.84" stroke="#000" stroke-width="1.4"/>
<line x1="797.20" y1="853.88" x2="850.80" y2="907.48" stroke="#000" stroke-width="1.4"/>
<path d="M814.17,870.85 L806.75,865.55 L808.87,863.43 Z" fill="#000"/>
<path d="M818.98,875.66 L826.41,880.97 L824.29,883.09 Z" fill="#000"/>
<text x="850.40" y="892.90" font-size="18.0" text-anchor="middle" textLength="16.22" lengthAdjust="spacingAndGlyphs" transform="rotate(45.00 850.40 892.90)" dominant-baseline="central">16</text>
<path d="M632.28,1194.38 A120.10,120.10 0 0 1 802.12,1194.38 L797.67,1198.83 A113.80,113.80 0 0 0 636.73,1198.83 Z" fill="#9b9b9b" stroke="#000" stroke-width="1.3"/>
<line x1="703.06" y1="1265.16" x2="600.53" y2="1162.63" stroke="#000" stroke-width="1.4"/>
<line x1="731.34" y1="1265.16" x2="833.87" y2="1162.63" stroke="#000" stroke-width="1.4"/>
<line x1="632.28" y1="1194.38" x2="632.28" y2="1079.80" stroke="#000" stroke-width="1.4"/>
<line x1="802.12" y1="1194.38" x2="802.12" y2="1079.80" stroke="#000" stroke-width="1.4"/>
<line x1="632.28" y1="1087.50" x2="802.12" y2="1087.50" stroke="#000" stroke-width="1.4"/>
<path d="M632.28,1087.50 L642.78,1085.40 L642.78,1089.60 Z" fill="#000"/>
<path d="M802.12,1087.50 L791.62,1089.60 L791.62,1085.40 Z" fill="#000"/>
<text x="717.20" y="1083.30" font-size="18.0" text-anchor="middle" textLength="24.33" lengthAdjust="spacingAndGlyphs">447</text>
<line x1="636.73" y1="1198.83" x2="636.73" y2="1237.30" stroke="#000" stroke-width="1.4"/>
<line x1="797.67" y1="1198.83" x2="797.67" y2="1237.30" stroke="#000" stroke-width="1.4"/>
<line x1="636.73" y1="1229.90" x2="797.67" y2="1229.90" stroke="#000" stroke-width="1.4"/>
<path d="M636.73,1229.90 L647.23,1227.80 L647.23,1232.00 Z" fill="#000"/>
<path d="M797.67,1229.90 L787.17,1232.00 L787.17,1227.80 Z" fill="#000"/>
<text x="717.20" y="1224.50" font-size="18.0" text-anchor="middle" textLength="24.33" lengthAdjust="spacingAndGlyphs">424</text>
<path d="M605.83,1167.93 A157.50,157.50 0 0 1 828.57,1167.93" fill="none" stroke="#000" stroke-width="1.4"/>
<path d="M605.83,1167.93 L612.12,1158.67 L615.09,1161.64 Z" fill="#000"/>
<path d="M828.57,1167.93 L819.31,1161.64 L822.28,1158.67 Z" fill="#000"/>
<text x="717.20" y="1114.80" font-size="18.0" text-anchor="middle" textLength="59.57" lengthAdjust="spacingAndGlyphs">497(+/-3)</text>
<path d="M688.64,1284.34 A29.00,29.00 0 1 1 745.76,1284.34" fill="none" stroke="#000" stroke-width="1.4"/>
<path d="M696.69,1258.79 L692.21,1268.46 L689.25,1266.41 Z" fill="#000"/>
<path d="M737.71,1258.79 L745.15,1266.41 L742.19,1268.46 Z" fill="#000"/>
<text x="717.20" y="1246.70" font-size="18.0" text-anchor="middle" textLength="22.05" lengthAdjust="spacingAndGlyphs">90°</text>
<circle cx="717.20" cy="1279.30" r="1.9" fill="#000"/>
<line x1="717.20" y1="1279.30" x2="660.64" y2="1180.55" stroke="#000" stroke-width="1.4"/>
<path d="M660.64,1180.55 L667.93,1189.05 L664.29,1191.14 Z" fill="#000"/>
<line x1="717.20" y1="1279.30" x2="776.70" y2="1174.98" stroke="#000" stroke-width="1.4"/>
<path d="M776.70,1174.98 L773.08,1185.57 L769.43,1183.49 Z" fill="#000"/>
<text x="684.00" y="1200.00" font-size="18.0" text-anchor="middle" textLength="34.86" lengthAdjust="spacingAndGlyphs" transform="rotate(60.00 684.00 1200.00)" dominant-baseline="central">R300</text>
<text x="749.50" y="1204.00" font-size="18.0" text-anchor="middle" textLength="34.86" lengthAdjust="spacingAndGlyphs" transform="rotate(-60.00 749.50 1204.00)" dominant-baseline="central">R316</text>
<line x1="802.12" y1="1194.38" x2="831.82" y2="1224.07" stroke="#000" stroke-width="1.4"/>
<line x1="797.67" y1="1198.83" x2="827.37" y2="1228.53" stroke="#000" stroke-width="1.4"/>
<line x1="804.39" y1="1239.49" x2="857.63" y2="1186.24" stroke="#000" stroke-width="1.4"/>
<path d="M821.36,1222.52 L816.05,1229.94 L813.93,1227.82 Z" fill="#000"/>
<path d="M825.81,1218.06 L831.11,1210.64 L833.24,1212.76 Z" fill="#000"/>
<text x="843.20" y="1187.20" font-size="18.0" text-anchor="middle" textLength="16.22" lengthAdjust="spacingAndGlyphs" transform="rotate(-45.00 843.20 1187.20)" dominant-baseline="central">16</text>
<path d="M632.21,1508.99 A120.20,120.20 0 0 0 802.19,1508.99 L797.74,1504.54 A113.90,113.90 0 0 1 636.66,1504.54 Z" fill="#9b9b9b" stroke="#000" stroke-width="1.3"/>
<line x1="700.02" y1="1441.18" x2="606.18" y2="1535.02" stroke="#000" stroke-width="1.4"/>
<line x1="734.38" y1="1441.18" x2="828.22" y2="1535.02" stroke="#000" stroke-width="1.4"/>
<line x1="632.21" y1="1508.99" x2="632.21" y2="1610.70" stroke="#000" stroke-width="1.4"/>
<line x1="802.19" y1="1508.99" x2="802.19" y2="1610.70" stroke="#000" stroke-width="1.4"/>
<line x1="632.21" y1="1602.50" x2="802.19" y2="1602.50" stroke="#000" stroke-width="1.4"/>
<path d="M632.21,1602.50 L642.71,1600.40 L642.71,1604.60 Z" fill="#000"/>
<path d="M802.19,1602.50 L791.69,1604.60 L791.69,1600.40 Z" fill="#000"/>
<text x="717.20" y="1597.80" font-size="18.0" text-anchor="middle" textLength="24.33" lengthAdjust="spacingAndGlyphs">447</text>
<line x1="636.66" y1="1504.54" x2="636.66" y2="1469.50" stroke="#000" stroke-width="1.4"/>
<line x1="797.74" y1="1504.54" x2="797.74" y2="1469.50" stroke="#000" stroke-width="1.4"/>
<line x1="636.66" y1="1477.70" x2="797.74" y2="1477.70" stroke="#000" stroke-width="1.4"/>
<path d="M636.66,1477.70 L647.16,1475.60 L647.16,1479.80 Z" fill="#000"/>
<path d="M797.74,1477.70 L787.24,1479.80 L787.24,1475.60 Z" fill="#000"/>
<text x="717.20" y="1473.50" font-size="18.0" text-anchor="middle" textLength="24.33" lengthAdjust="spacingAndGlyphs">424</text>
<path d="M611.63,1529.57 A149.30,149.30 0 0 0 822.77,1529.57" fill="none" stroke="#000" stroke-width="1.4"/>
<path d="M611.63,1529.57 L620.89,1535.86 L617.92,1538.83 Z" fill="#000"/>
<path d="M822.77,1529.57 L816.48,1538.83 L813.51,1535.86 Z" fill="#000"/>
<text x="717.20" y="1566.30" font-size="18.0" text-anchor="middle" textLength="59.57" lengthAdjust="spacingAndGlyphs">497(+/-3)</text>
<path d="M694.58,1449.12 A33.80,33.80 0 0 0 739.82,1449.12" fill="none" stroke="#000" stroke-width="1.4"/>
<path d="M694.58,1449.12 L701.53,1453.36 L699.52,1455.59 Z" fill="#000"/>
<path d="M739.82,1449.12 L734.88,1455.59 L732.87,1453.36 Z" fill="#000"/>
<text x="717.20" y="1454.30" font-size="13.5" text-anchor="middle" textLength="16.54" lengthAdjust="spacingAndGlyphs">90°</text>
<circle cx="717.20" cy="1424.00" r="1.9" fill="#000"/>
<line x1="717.20" y1="1424.00" x2="661.51" y2="1530.52" stroke="#000" stroke-width="1.4"/>
<path d="M661.51,1530.52 L664.75,1519.80 L668.47,1521.75 Z" fill="#000"/>
<line x1="717.20" y1="1424.00" x2="768.02" y2="1525.93" stroke="#000" stroke-width="1.4"/>
<path d="M768.02,1525.93 L761.23,1517.03 L764.99,1515.15 Z" fill="#000"/>
<text x="664.70" y="1499.00" font-size="18.0" text-anchor="middle" textLength="34.86" lengthAdjust="spacingAndGlyphs" transform="rotate(-60.00 664.70 1499.00)" dominant-baseline="central">R316</text>
<text x="760.30" y="1496.30" font-size="18.0" text-anchor="middle" textLength="34.86" lengthAdjust="spacingAndGlyphs" transform="rotate(60.00 760.30 1496.30)" dominant-baseline="central">R300</text>
<line x1="802.19" y1="1508.99" x2="825.88" y2="1485.31" stroke="#000" stroke-width="1.4"/>
<line x1="797.74" y1="1504.54" x2="821.43" y2="1480.85" stroke="#000" stroke-width="1.4"/>
<line x1="799.86" y1="1469.89" x2="852.40" y2="1522.43" stroke="#000" stroke-width="1.4"/>
<path d="M816.12,1486.15 L808.70,1480.85 L810.82,1478.73 Z" fill="#000"/>
<path d="M820.58,1490.61 L828.00,1495.91 L825.88,1498.03 Z" fill="#000"/>
<text x="852.00" y="1508.30" font-size="18.0" text-anchor="middle" textLength="16.22" lengthAdjust="spacingAndGlyphs" transform="rotate(45.00 852.00 1508.30)" dominant-baseline="central">16</text>
<g transform="translate(0 0.00)">
<path d="M997.5,169 C1031,161 1072,143 1076.3,127 L1076.5,90.5 L1080.5,90.5 C1083,100 1084.6,114 1084.6,128 L1080.6,305 C1078,333 1050,363 1009.6,380 L1006.1,379.5 Z" fill="#7b807a"/>
<path d="M1000.6,172.0 C1035,164 1075,147.5 1080.4,130.5 L1084.5,130.5 L1080.6,305 C1078,333 1050,363 1009.6,380 Z" fill="url(#gface)"/>
<path d="M1000.6,172.0 C1035,164 1075,147.5 1080.4,130.5" fill="none" stroke="#000" stroke-width="1.0"/>
<path d="M1000.6,172.0 L1009.6,380" fill="none" stroke="#000" stroke-width="1.0"/>
<path d="M1076.5,92 C1079.5,100 1081,114 1080.6,131" fill="none" stroke="#000" stroke-width="0.9"/>
<path d="M1082.6,134 L1082.2,190" fill="none" stroke="#e4e7e2" stroke-width="1.4" opacity="0.5"/>
<path d="M997.5,169 C1031,161 1072,143 1076.3,127 L1076.5,90.5 L1080.5,90.5 C1083,100 1084.6,114 1084.6,128 L1080.6,305 C1078,333 1050,363 1009.6,380 L1006.1,379.5 Z" fill="none" stroke="#000" stroke-width="1.5" stroke-linejoin="round"/>
<path d="M1021.30,354.50 L1015.50,184.00 C1040,176.5 1071,168 1082.6,153.0" fill="none" stroke="#6a6e68" stroke-width="0.9"/>
<path d="M1021.30,354.50 C1052,346 1075,331 1081.0,305.0" fill="none" stroke="#6a6e68" stroke-width="0.9"/>
<path d="M1023.90,351.50 L1018.00,186.50 C1042,179 1072,170 1082.6,155.6" fill="none" stroke="#c3c7c1" stroke-width="2.2"/>
<path d="M1023.90,351.50 C1054,343 1076,328 1081.0,302.0" fill="none" stroke="#c3c7c1" stroke-width="2.2"/>
<path d="M1026.60,348.50 L1020.60,189.00 C1044,181.5 1073,172 1082.6,157.8" fill="none" stroke="#767a73" stroke-width="0.8"/>
<path d="M1026.60,348.50 C1056,340 1077,325 1081.0,299.0" fill="none" stroke="#767a73" stroke-width="0.8"/>
<path d="M1029.60,345.20 L1023.60,191.80 C1046,184 1074,174 1082.6,159.6" fill="none" stroke="#b6bab4" stroke-width="1.8"/>
<path d="M1029.60,345.20 C1058,337 1078,322 1081.0,296.5" fill="none" stroke="#b6bab4" stroke-width="1.8"/>
<path d="M1033.00,341.80 L1027.00,194.80 C1049,187 1075,176.5 1082.6,161.0" fill="none" stroke="#6f736d" stroke-width="0.9"/>
<path d="M1033.00,341.80 C1060,334 1079,319 1081.0,294.0" fill="none" stroke="#6f736d" stroke-width="0.9"/>
<line x1="962.80" y1="170.30" x2="997.50" y2="169.40" stroke="#000" stroke-width="1.2"/>
<line x1="973.80" y1="378.40" x2="1006.00" y2="376.60" stroke="#000" stroke-width="1.2"/>
<line x1="970.10" y1="171.20" x2="980.60" y2="377.50" stroke="#000" stroke-width="1.2"/>
<path d="M970.10,171.20 L972.36,182.10 L968.96,182.27 Z" fill="#000"/>
<path d="M980.60,377.50 L978.34,366.60 L981.74,366.43 Z" fill="#000"/>
<text x="986.20" y="273.50" font-size="17.5" text-anchor="middle" textLength="7.88" lengthAdjust="spacingAndGlyphs" transform="rotate(87.00 986.20 273.50)" dominant-baseline="central">h</text>
<line x1="1000.20" y1="96.40" x2="1068.80" y2="136.80" stroke="#000" stroke-width="1.2"/>
<path d="M1068.80,136.80 L1058.46,132.68 L1060.18,129.75 Z" fill="#000"/>
<text x="1044.50" y="110.50" font-size="18" text-anchor="middle" textLength="34.86" lengthAdjust="spacingAndGlyphs" transform="rotate(30.50 1044.50 110.50)" dominant-baseline="central">R284</text>
</g>
<text x="1108.30" y="205.90" font-size="18.4" text-anchor="middle" textLength="111.74" lengthAdjust="spacingAndGlyphs" transform="rotate(-90.00 1108.30 205.90)" dominant-baseline="central">Фрезерованный</text>
<g transform="translate(0 315.00)">
<path d="M997.5,169 C1031,161 1072,143 1076.3,127 L1076.5,90.5 L1080.5,90.5 C1083,100 1084.6,114 1084.6,128 L1080.6,305 C1078,333 1050,363 1009.6,380 L1006.1,379.5 Z" fill="#7b807a"/>
<path d="M1000.6,172.0 C1035,164 1075,147.5 1080.4,130.5 L1084.5,130.5 L1080.6,305 C1078,333 1050,363 1009.6,380 Z" fill="url(#gface)"/>
<path d="M1000.6,172.0 C1035,164 1075,147.5 1080.4,130.5" fill="none" stroke="#000" stroke-width="1.0"/>
<path d="M1000.6,172.0 L1009.6,380" fill="none" stroke="#000" stroke-width="1.0"/>
<path d="M1076.5,92 C1079.5,100 1081,114 1080.6,131" fill="none" stroke="#000" stroke-width="0.9"/>
<path d="M1082.6,134 L1082.2,190" fill="none" stroke="#e4e7e2" stroke-width="1.4" opacity="0.5"/>
<path d="M997.5,169 C1031,161 1072,143 1076.3,127 L1076.5,90.5 L1080.5,90.5 C1083,100 1084.6,114 1084.6,128 L1080.6,305 C1078,333 1050,363 1009.6,380 L1006.1,379.5 Z" fill="none" stroke="#000" stroke-width="1.5" stroke-linejoin="round"/>
<line x1="962.80" y1="170.30" x2="997.50" y2="169.40" stroke="#000" stroke-width="1.2"/>
<line x1="973.80" y1="378.40" x2="1006.00" y2="376.60" stroke="#000" stroke-width="1.2"/>
<line x1="970.10" y1="171.20" x2="980.60" y2="377.50" stroke="#000" stroke-width="1.2"/>
<path d="M970.10,171.20 L972.36,182.10 L968.96,182.27 Z" fill="#000"/>
<path d="M980.60,377.50 L978.34,366.60 L981.74,366.43 Z" fill="#000"/>
<text x="986.20" y="273.50" font-size="17.5" text-anchor="middle" textLength="7.88" lengthAdjust="spacingAndGlyphs" transform="rotate(87.00 986.20 273.50)" dominant-baseline="central">h</text>
<circle cx="1000.20" cy="96.40" r="1.7" fill="#000"/>
<line x1="1000.20" y1="96.40" x2="1068.80" y2="136.80" stroke="#000" stroke-width="1.2"/>
<path d="M1068.80,136.80 L1058.46,132.68 L1060.18,129.75 Z" fill="#000"/>
<text x="1044.50" y="110.50" font-size="18" text-anchor="middle" textLength="34.86" lengthAdjust="spacingAndGlyphs" transform="rotate(30.50 1044.50 110.50)" dominant-baseline="central">R284</text>
</g>
<text x="1111.90" y="533.50" font-size="18.4" text-anchor="middle" textLength="56.64" lengthAdjust="spacingAndGlyphs" transform="rotate(-90.00 1111.90 533.50)" dominant-baseline="central">Гладкий</text>
<g transform="translate(0 960.00)">
<path d="M997.5,169 C1031,161 1072,143 1076.3,127 L1076.5,90.5 L1080.5,90.5 C1083,100 1084.6,114 1084.6,128 L1080.6,305 C1078,333 1050,363 1009.6,380 L1006.1,379.5 Z" fill="#7b807a"/>
<path d="M1000.6,172.0 C1035,164 1075,147.5 1080.4,130.5 L1084.5,130.5 L1080.6,305 C1078,333 1050,363 1009.6,380 Z" fill="url(#gface)"/>
<path d="M1000.6,172.0 C1035,164 1075,147.5 1080.4,130.5" fill="none" stroke="#000" stroke-width="1.0"/>
<path d="M1000.6,172.0 L1009.6,380" fill="none" stroke="#000" stroke-width="1.0"/>
<path d="M1076.5,92 C1079.5,100 1081,114 1080.6,131" fill="none" stroke="#000" stroke-width="0.9"/>
<path d="M1082.6,134 L1082.2,190" fill="none" stroke="#e4e7e2" stroke-width="1.4" opacity="0.5"/>
<path d="M997.5,169 C1031,161 1072,143 1076.3,127 L1076.5,90.5 L1080.5,90.5 C1083,100 1084.6,114 1084.6,128 L1080.6,305 C1078,333 1050,363 1009.6,380 L1006.1,379.5 Z" fill="none" stroke="#000" stroke-width="1.5" stroke-linejoin="round"/>
<line x1="962.80" y1="170.30" x2="997.50" y2="169.40" stroke="#000" stroke-width="1.2"/>
<line x1="973.80" y1="378.40" x2="1006.00" y2="376.60" stroke="#000" stroke-width="1.2"/>
<line x1="970.10" y1="171.20" x2="980.60" y2="377.50" stroke="#000" stroke-width="1.2"/>
<path d="M970.10,171.20 L972.36,182.10 L968.96,182.27 Z" fill="#000"/>
<path d="M980.60,377.50 L978.34,366.60 L981.74,366.43 Z" fill="#000"/>
<text x="986.20" y="273.50" font-size="17.5" text-anchor="middle" textLength="7.88" lengthAdjust="spacingAndGlyphs" transform="rotate(87.00 986.20 273.50)" dominant-baseline="central">h</text>
<circle cx="1000.20" cy="96.40" r="1.7" fill="#000"/>
<line x1="1000.20" y1="96.40" x2="1068.80" y2="136.80" stroke="#000" stroke-width="1.2"/>
<path d="M1068.80,136.80 L1058.46,132.68 L1060.18,129.75 Z" fill="#000"/>
<text x="1044.50" y="110.50" font-size="18" text-anchor="middle" textLength="34.86" lengthAdjust="spacingAndGlyphs" transform="rotate(30.50 1044.50 110.50)" dominant-baseline="central">R300</text>
</g>
<text x="1113.60" y="1178.00" font-size="18.4" text-anchor="middle" textLength="56.64" lengthAdjust="spacingAndGlyphs" transform="rotate(-90.00 1113.60 1178.00)" dominant-baseline="central">Гладкий</text>
<g transform="translate(0 0.00)">
<path d="M1096.5,725 C1031.5,737.4 996,753 996,808 L1006.3,1016.5 L1010,1016.5 C1010,990 1030,958 1084.2,948.8 Z" fill="#8e928c"/>
<path d="M1095.8,728.3 C1033.5,740.5 1000.5,756 1000.5,808 L1010,1016.5 C1010,990 1030,958 1084.2,948.8 Z" fill="url(#gface2)"/>
<path d="M1095.8,728.3 C1033.5,740.5 1000.5,756 1000.5,808 L1010,1016.5" fill="none" stroke="#000" stroke-width="1.0"/>
<path d="M1096.5,725 C1031.5,737.4 996,753 996,808 L1006.3,1016.5 L1010,1016.5 C1010,990 1030,958 1084.2,948.8 Z" fill="none" stroke="#000" stroke-width="1.5" stroke-linejoin="round"/>
<line x1="962.80" y1="809.90" x2="996.20" y2="808.80" stroke="#000" stroke-width="1.2"/>
<line x1="973.80" y1="1017.00" x2="1008.00" y2="1016.30" stroke="#000" stroke-width="1.2"/>
<line x1="970.10" y1="810.80" x2="981.00" y2="1016.10" stroke="#000" stroke-width="1.2"/>
<path d="M970.10,810.80 L972.38,821.69 L968.99,821.87 Z" fill="#000"/>
<path d="M981.00,1016.10 L978.72,1005.21 L982.11,1005.03 Z" fill="#000"/>
<text x="986.20" y="913.00" font-size="17.5" text-anchor="middle" textLength="7.88" lengthAdjust="spacingAndGlyphs" transform="rotate(87.00 986.20 913.00)" dominant-baseline="central">h</text>
<circle cx="1104.00" cy="1008.50" r="1.8" fill="#000"/>
<line x1="1104.00" y1="1008.50" x2="1034.50" y2="968.50" stroke="#000" stroke-width="1.2"/>
<path d="M1034.50,968.50 L1044.93,972.43 L1043.14,975.55 Z" fill="#000"/>
<text x="1073.00" y="979.00" font-size="18" text-anchor="middle" textLength="34.86" lengthAdjust="spacingAndGlyphs" transform="rotate(30.00 1073.00 979.00)" dominant-baseline="central">R284</text>
</g>
<text x="1115.80" y="841.50" font-size="18.4" text-anchor="middle" textLength="56.64" lengthAdjust="spacingAndGlyphs" transform="rotate(-90.00 1115.80 841.50)" dominant-baseline="central">Гладкий</text>
<g transform="translate(0 646.50)">
<path d="M1096.5,725 C1031.5,737.4 996,753 996,808 L1006.3,1016.5 L1010,1016.5 C1010,990 1030,958 1084.2,948.8 Z" fill="#8e928c"/>
<path d="M1095.8,728.3 C1033.5,740.5 1000.5,756 1000.5,808 L1010,1016.5 C1010,990 1030,958 1084.2,948.8 Z" fill="url(#gface2)"/>
<path d="M1095.8,728.3 C1033.5,740.5 1000.5,756 1000.5,808 L1010,1016.5" fill="none" stroke="#000" stroke-width="1.0"/>
<path d="M1096.5,725 C1031.5,737.4 996,753 996,808 L1006.3,1016.5 L1010,1016.5 C1010,990 1030,958 1084.2,948.8 Z" fill="none" stroke="#000" stroke-width="1.5" stroke-linejoin="round"/>
<line x1="962.80" y1="809.90" x2="996.20" y2="808.80" stroke="#000" stroke-width="1.2"/>
<line x1="973.80" y1="1017.00" x2="1008.00" y2="1016.30" stroke="#000" stroke-width="1.2"/>
<line x1="970.10" y1="810.80" x2="981.00" y2="1016.10" stroke="#000" stroke-width="1.2"/>
<path d="M970.10,810.80 L972.38,821.69 L968.99,821.87 Z" fill="#000"/>
<path d="M981.00,1016.10 L978.72,1005.21 L982.11,1005.03 Z" fill="#000"/>
<text x="986.20" y="913.00" font-size="17.5" text-anchor="middle" textLength="7.88" lengthAdjust="spacingAndGlyphs" transform="rotate(87.00 986.20 913.00)" dominant-baseline="central">h</text>
<circle cx="1104.00" cy="1008.50" r="1.8" fill="#000"/>
<line x1="1104.00" y1="1008.50" x2="1034.50" y2="968.50" stroke="#000" stroke-width="1.2"/>
<path d="M1034.50,968.50 L1044.93,972.43 L1043.14,975.55 Z" fill="#000"/>
<text x="1073.00" y="979.00" font-size="18" text-anchor="middle" textLength="34.86" lengthAdjust="spacingAndGlyphs" transform="rotate(30.00 1073.00 979.00)" dominant-baseline="central">R300</text>
</g>
<text x="1112.90" y="1492.30" font-size="18.4" text-anchor="middle" textLength="56.64" lengthAdjust="spacingAndGlyphs" transform="rotate(-90.00 1112.90 1492.30)" dominant-baseline="central">Гладкий</text>
</svg>
</body></html>
